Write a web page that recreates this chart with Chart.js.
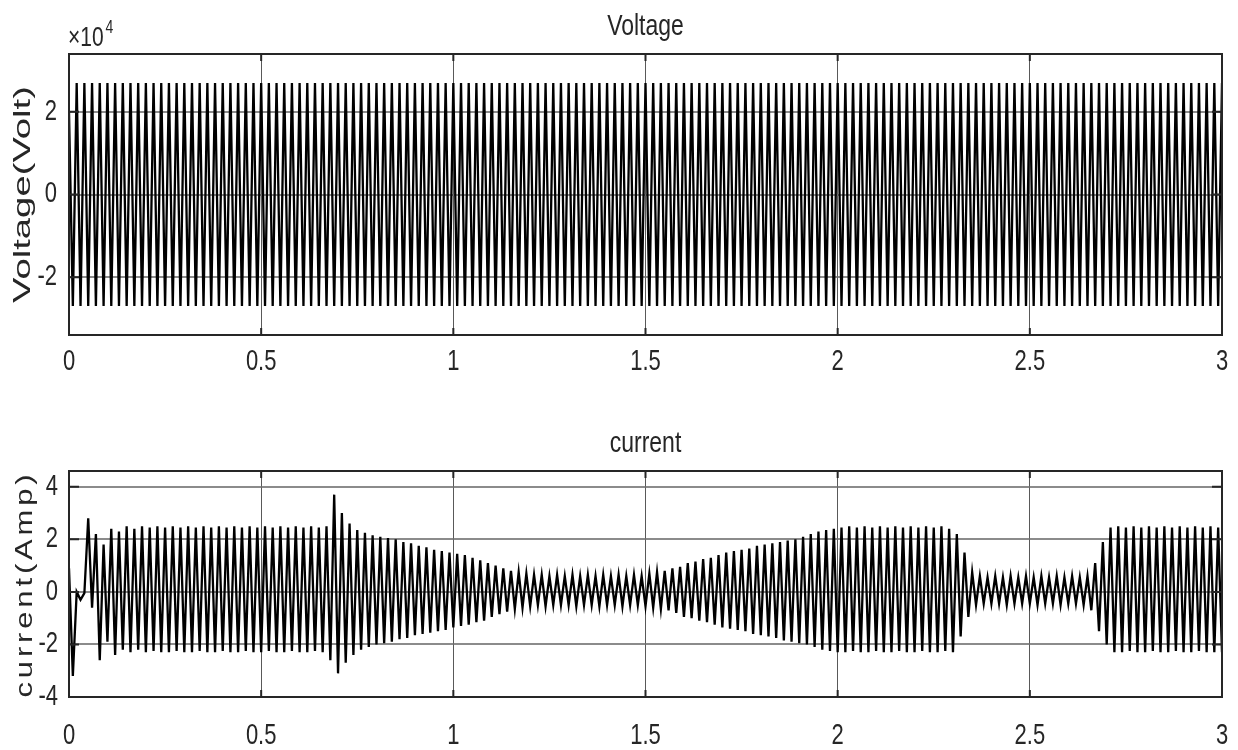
<!DOCTYPE html>
<html>
<head>
<meta charset="utf-8">
<script src="https://cdn.jsdelivr.net/npm/chart.js@4/dist/chart.umd.min.js"></script>
<style>
  html, body { margin: 0; padding: 0; background: #fff; }
  #wrap { position: relative; width: 1238px; height: 750px; }
  .panel { position: absolute; left: 0; width: 1238px; }
  #top { top: 0; height: 390px; }
  #bottom { top: 390px; height: 360px; }
</style>
</head>
<body>
<div id="wrap">
  <div class="panel" id="top"><canvas id="voltChart"></canvas></div>
  <div class="panel" id="bottom"><canvas id="currChart"></canvas></div>
</div>
<script>
(() => {
  'use strict'

  // peaks were read once per half cycle (50 Hz), seconds
  const timeStep = 0.01

  const timeTicks = [0, 0.5, 1, 1.5, 2, 2.5, 3]
  const voltageTicks = [-2, 0, 2]
  const currentTicks = [-4, -2, 0, 2, 4]

  // voltage peaks, in units of 10^4 V
  const voltage = [
    2.0, -2.7, 2.7, -2.7, 2.7, -2.7, 2.7, -2.7, 2.7, -2.7,
    2.7, -2.7, 2.7, -2.7, 2.7, -2.7, 2.7, -2.7, 2.7, -2.7,
    2.7, -2.7, 2.7, -2.7, 2.7, -2.7, 2.7, -2.7, 2.7, -2.7,
    2.7, -2.7, 2.7, -2.7, 2.7, -2.7, 2.7, -2.7, 2.7, -2.7,
    2.7, -2.7, 2.7, -2.7, 2.7, -2.7, 2.7, -2.7, 2.7, -2.7,
    2.7, -2.7, 2.7, -2.7, 2.7, -2.7, 2.7, -2.7, 2.7, -2.7,
    2.7, -2.7, 2.7, -2.7, 2.7, -2.7, 2.7, -2.7, 2.7, -2.7,
    2.7, -2.7, 2.7, -2.7, 2.7, -2.7, 2.7, -2.7, 2.7, -2.7,
    2.7, -2.7, 2.7, -2.7, 2.7, -2.7, 2.7, -2.7, 2.7, -2.7,
    2.7, -2.7, 2.7, -2.7, 2.7, -2.7, 2.7, -2.7, 2.7, -2.7,
    2.7, -2.7, 2.7, -2.7, 2.7, -2.7, 2.7, -2.7, 2.7, -2.7,
    2.7, -2.7, 2.7, -2.7, 2.7, -2.7, 2.7, -2.7, 2.7, -2.7,
    2.7, -2.7, 2.7, -2.7, 2.7, -2.7, 2.7, -2.7, 2.7, -2.7,
    2.7, -2.7, 2.7, -2.7, 2.7, -2.7, 2.7, -2.7, 2.7, -2.7,
    2.7, -2.7, 2.7, -2.7, 2.7, -2.7, 2.7, -2.7, 2.7, -2.7,
    2.7, -2.7, 2.7, -2.7, 2.7, -2.7, 2.7, -2.7, 2.7, -2.7,
    2.7, -2.7, 2.7, -2.7, 2.7, -2.7, 2.7, -2.7, 2.7, -2.7,
    2.7, -2.7, 2.7, -2.7, 2.7, -2.7, 2.7, -2.7, 2.7, -2.7,
    2.7, -2.7, 2.7, -2.7, 2.7, -2.7, 2.7, -2.7, 2.7, -2.7,
    2.7, -2.7, 2.7, -2.7, 2.7, -2.7, 2.7, -2.7, 2.7, -2.7,
    2.7, -2.7, 2.7, -2.7, 2.7, -2.7, 2.7, -2.7, 2.7, -2.7,
    2.7, -2.7, 2.7, -2.7, 2.7, -2.7, 2.7, -2.7, 2.7, -2.7,
    2.7, -2.7, 2.7, -2.7, 2.7, -2.7, 2.7, -2.7, 2.7, -2.7,
    2.7, -2.7, 2.7, -2.7, 2.7, -2.7, 2.7, -2.7, 2.7, -2.7,
    2.7, -2.7, 2.7, -2.7, 2.7, -2.7, 2.7, -2.7, 2.7, -2.7,
    2.7, -2.7, 2.7, -2.7, 2.7, -2.7, 2.7, -2.7, 2.7, -2.7,
    2.7, -2.7, 2.7, -2.7, 2.7, -2.7, 2.7, -2.7, 2.7, -2.7,
    2.7, -2.7, 2.7, -2.7, 2.7, -2.7, 2.7, -2.7, 2.7, -2.7,
    2.7, -2.7, 2.7, -2.7, 2.7, -2.7, 2.7, -2.7, 2.7, -2.7,
    2.7, -2.7, 2.7, -2.7, 2.7, -2.7, 2.7, -2.7, 2.7, -2.7,
    2.7
  ]

  // current peaks, A
  const current = [
    0.9, -3.2, 0.0, -0.3, -0.05, 2.8, -0.6, 2.2, -2.6, 1.8,
    -1.9, 2.4, -2.4, 2.3, -2.2, 2.5, -2.3, 2.4, -2.2, 2.5,
    -2.3, 2.45, -2.25, 2.5, -2.3, 2.45, -2.3, 2.5, -2.25, 2.45,
    -2.3, 2.5, -2.3, 2.45, -2.25, 2.5, -2.3, 2.45, -2.3, 2.5,
    -2.25, 2.45, -2.3, 2.5, -2.3, 2.45, -2.25, 2.5, -2.3, 2.45,
    -2.3, 2.5, -2.25, 2.45, -2.3, 2.5, -2.3, 2.45, -2.25, 2.5,
    -2.3, 2.45, -2.3, 2.5, -2.25, 2.45, -2.3, 2.5, -2.6, 3.7,
    -3.1, 3.0, -2.7, 2.6, -2.4, 2.35, -2.2, 2.25, -2.1, 2.15,
    -2.0, 2.1, -1.95, 2.05, -1.9, 2.0, -1.8, 1.9, -1.75, 1.85,
    -1.65, 1.75, -1.6, 1.7, -1.55, 1.6, -1.5, 1.55, -1.45, 1.5,
    -1.35, 1.45, -1.3, 1.4, -1.25, 1.3, -1.15, 1.2, -1.1, 1.1,
    -0.95, 1.0, -0.85, 0.9, -0.75, 0.8, -0.65, 0.75, -0.6, 0.7,
    -0.55, 0.65, -0.5, 0.65, -0.55, 0.6, -0.5, 0.65, -0.5, 0.6,
    -0.5, 0.65, -0.55, 0.6, -0.5, 0.65, -0.5, 0.6, -0.55, 0.65,
    -0.5, 0.6, -0.5, 0.65, -0.55, 0.6, -0.5, 0.65, -0.5, 0.6,
    -0.55, 0.7, -0.6, 0.75, -0.65, 0.8, -0.7, 0.9, -0.8, 0.95,
    -0.95, 1.1, -1.0, 1.15, -1.1, 1.25, -1.15, 1.3, -1.25, 1.4,
    -1.35, 1.5, -1.4, 1.55, -1.45, 1.6, -1.5, 1.65, -1.6, 1.75,
    -1.65, 1.8, -1.7, 1.85, -1.75, 1.9, -1.85, 1.95, -1.9, 2.0,
    -1.95, 2.1, -2.0, 2.2, -2.1, 2.3, -2.2, 2.35, -2.25, 2.4,
    -2.3, 2.45, -2.3, 2.5, -2.25, 2.45, -2.3, 2.5, -2.3, 2.45,
    -2.25, 2.5, -2.3, 2.45, -2.3, 2.5, -2.25, 2.45, -2.3, 2.5,
    -2.3, 2.45, -2.25, 2.5, -2.3, 2.45, -2.3, 2.5, -2.25, 2.4,
    -2.3, 2.2, -1.7, 1.5, -0.95, 0.75, -0.5, 0.6, -0.45, 0.55,
    -0.45, 0.6, -0.45, 0.55, -0.5, 0.6, -0.45, 0.55, -0.45, 0.6,
    -0.45, 0.55, -0.5, 0.6, -0.45, 0.55, -0.45, 0.6, -0.5, 0.55,
    -0.45, 0.6, -0.45, 0.55, -0.5, 0.6, -0.7, 1.1, -1.5, 1.9,
    -2.0, 2.45, -2.3, 2.5, -2.3, 2.45, -2.25, 2.5, -2.3, 2.45,
    -2.3, 2.5, -2.25, 2.45, -2.3, 2.5, -2.3, 2.45, -2.25, 2.5,
    -2.3, 2.45, -2.3, 2.5, -2.25, 2.45, -2.3, 2.5, -2.3, 2.45,
    -2.3
  ]

  const ink = '#262626'
  const stretch = 1.3
  const face = '"Liberation Sans", Arial, sans-serif'

  // the source picture is stretched vertically, so text is scaled to match
  function drawText (ctx, text, x, y, size, align, rotate, fitLength, spacing) {
    ctx.save()
    ctx.font = size + 'px ' + face
    ctx.fillStyle = ink
    ctx.textAlign = align
    ctx.textBaseline = 'middle'
    if (spacing) ctx.letterSpacing = spacing
    ctx.translate(x, y)
    if (rotate) {
      ctx.rotate(-Math.PI / 2)
      const k = fitLength ? fitLength / ctx.measureText(text).width : stretch
      ctx.scale(k, 1)
    } else {
      ctx.scale(1, stretch)
    }
    ctx.fillText(text, 0, 0)
    ctx.restore()
  }

  const matlabFrame = {
    id: 'matlabFrame',
    afterDraw (chart, args, opts) {
      const { ctx, chartArea: a, scales: { x, y } } = chart
      ctx.save()
      ctx.strokeStyle = ink
      ctx.lineWidth = 2
      ctx.strokeRect(a.left, a.top, a.right - a.left, a.bottom - a.top)
      ctx.beginPath()
      y.ticks.forEach(t => {
        const py = y.getPixelForValue(t.value)
        ctx.moveTo(a.left, py)
        ctx.lineTo(a.left + 10, py)
        ctx.moveTo(a.right, py)
        ctx.lineTo(a.right - 10, py)
      })
      x.ticks.forEach(t => {
        const px = x.getPixelForValue(t.value)
        ctx.moveTo(px, a.top)
        ctx.lineTo(px, a.top + 7)
        ctx.moveTo(px, a.bottom)
        ctx.lineTo(px, a.bottom - 7)
      })
      ctx.stroke()
      ctx.restore()

      x.ticks.forEach(t => drawText(ctx, String(t.value), x.getPixelForValue(t.value), opts.xLabelY, 22, 'center'))
      y.ticks.forEach(t => drawText(ctx, String(t.value), opts.yLabelX, y.getPixelForValue(t.value), 22, 'right'))
      drawText(ctx, opts.title, (a.left + a.right) / 2, opts.titleY, 23, 'center')
      drawText(ctx, opts.yTitle, opts.yTitleX, (a.top + a.bottom) / 2, 24, 'center', true, opts.yTitleLength, opts.spacing)

      if (opts.exponent) {
        ctx.save()
        ctx.font = '21px ' + face
        const w = ctx.measureText('\u00d710').width
        ctx.restore()
        drawText(ctx, '\u00d710', a.left - 1, 38, 21, 'left')
        drawText(ctx, opts.exponent, a.left + w + 1, 28, 14, 'left')
      }
    }
  }

  function waveChart (id, values, yMin, yMax, yTicks, frame, padTop, xHeight) {
    return new Chart(document.getElementById(id), {
      type: 'line',
      data: {
        datasets: [{
          data: values.map((v, i) => ({ x: i * timeStep, y: v })),
          borderColor: '#000',
          borderWidth: 2.3,
          pointRadius: 0,
          tension: 0
        }]
      },
      options: {
        responsive: true,
        maintainAspectRatio: false,
        animation: false,
        layout: { padding: { top: padTop, right: 16, left: 0, bottom: 0 } },
        plugins: {
          legend: { display: false },
          tooltip: { enabled: false },
          matlabFrame: frame
        },
        scales: {
          x: {
            type: 'linear',
            min: 0,
            max: 3,
            afterBuildTicks: s => { s.ticks = timeTicks.map(v => ({ value: v })) },
            afterFit: s => { s.height = xHeight },
            ticks: { display: false },
            grid: { color: 'rgba(60,60,60,0.85)', lineWidth: 1, drawTicks: false },
            border: { display: false }
          },
          y: {
            min: yMin,
            max: yMax,
            afterBuildTicks: s => { s.ticks = yTicks.map(v => ({ value: v })) },
            afterFit: s => { s.width = 69 },
            ticks: { display: false },
            grid: { color: 'rgba(110,110,110,0.8)', lineWidth: 2, drawTicks: false },
            border: { display: false }
          }
        }
      },
      plugins: [matlabFrame]
    })
  }

  waveChart('voltChart', voltage, -3.4, 3.4, voltageTicks, {
    title: 'Voltage',
    titleY: 27,
    xLabelY: 362,
    yLabelX: 57,
    yTitle: 'Voltage(Volt)',
    yTitleX: 23,
    yTitleLength: 217,
    exponent: '4'
  }, 54, 55)

  waveChart('currChart', current, -4, 4.6, currentTicks, {
    title: 'current',
    titleY: 54,
    xLabelY: 346,
    yLabelX: 58,
    yTitle: 'current(Amp)',
    yTitleX: 25,
    yTitleLength: 227,
    spacing: '3px'
  }, 81, 53)
})()
</script>
</body>
</html>
